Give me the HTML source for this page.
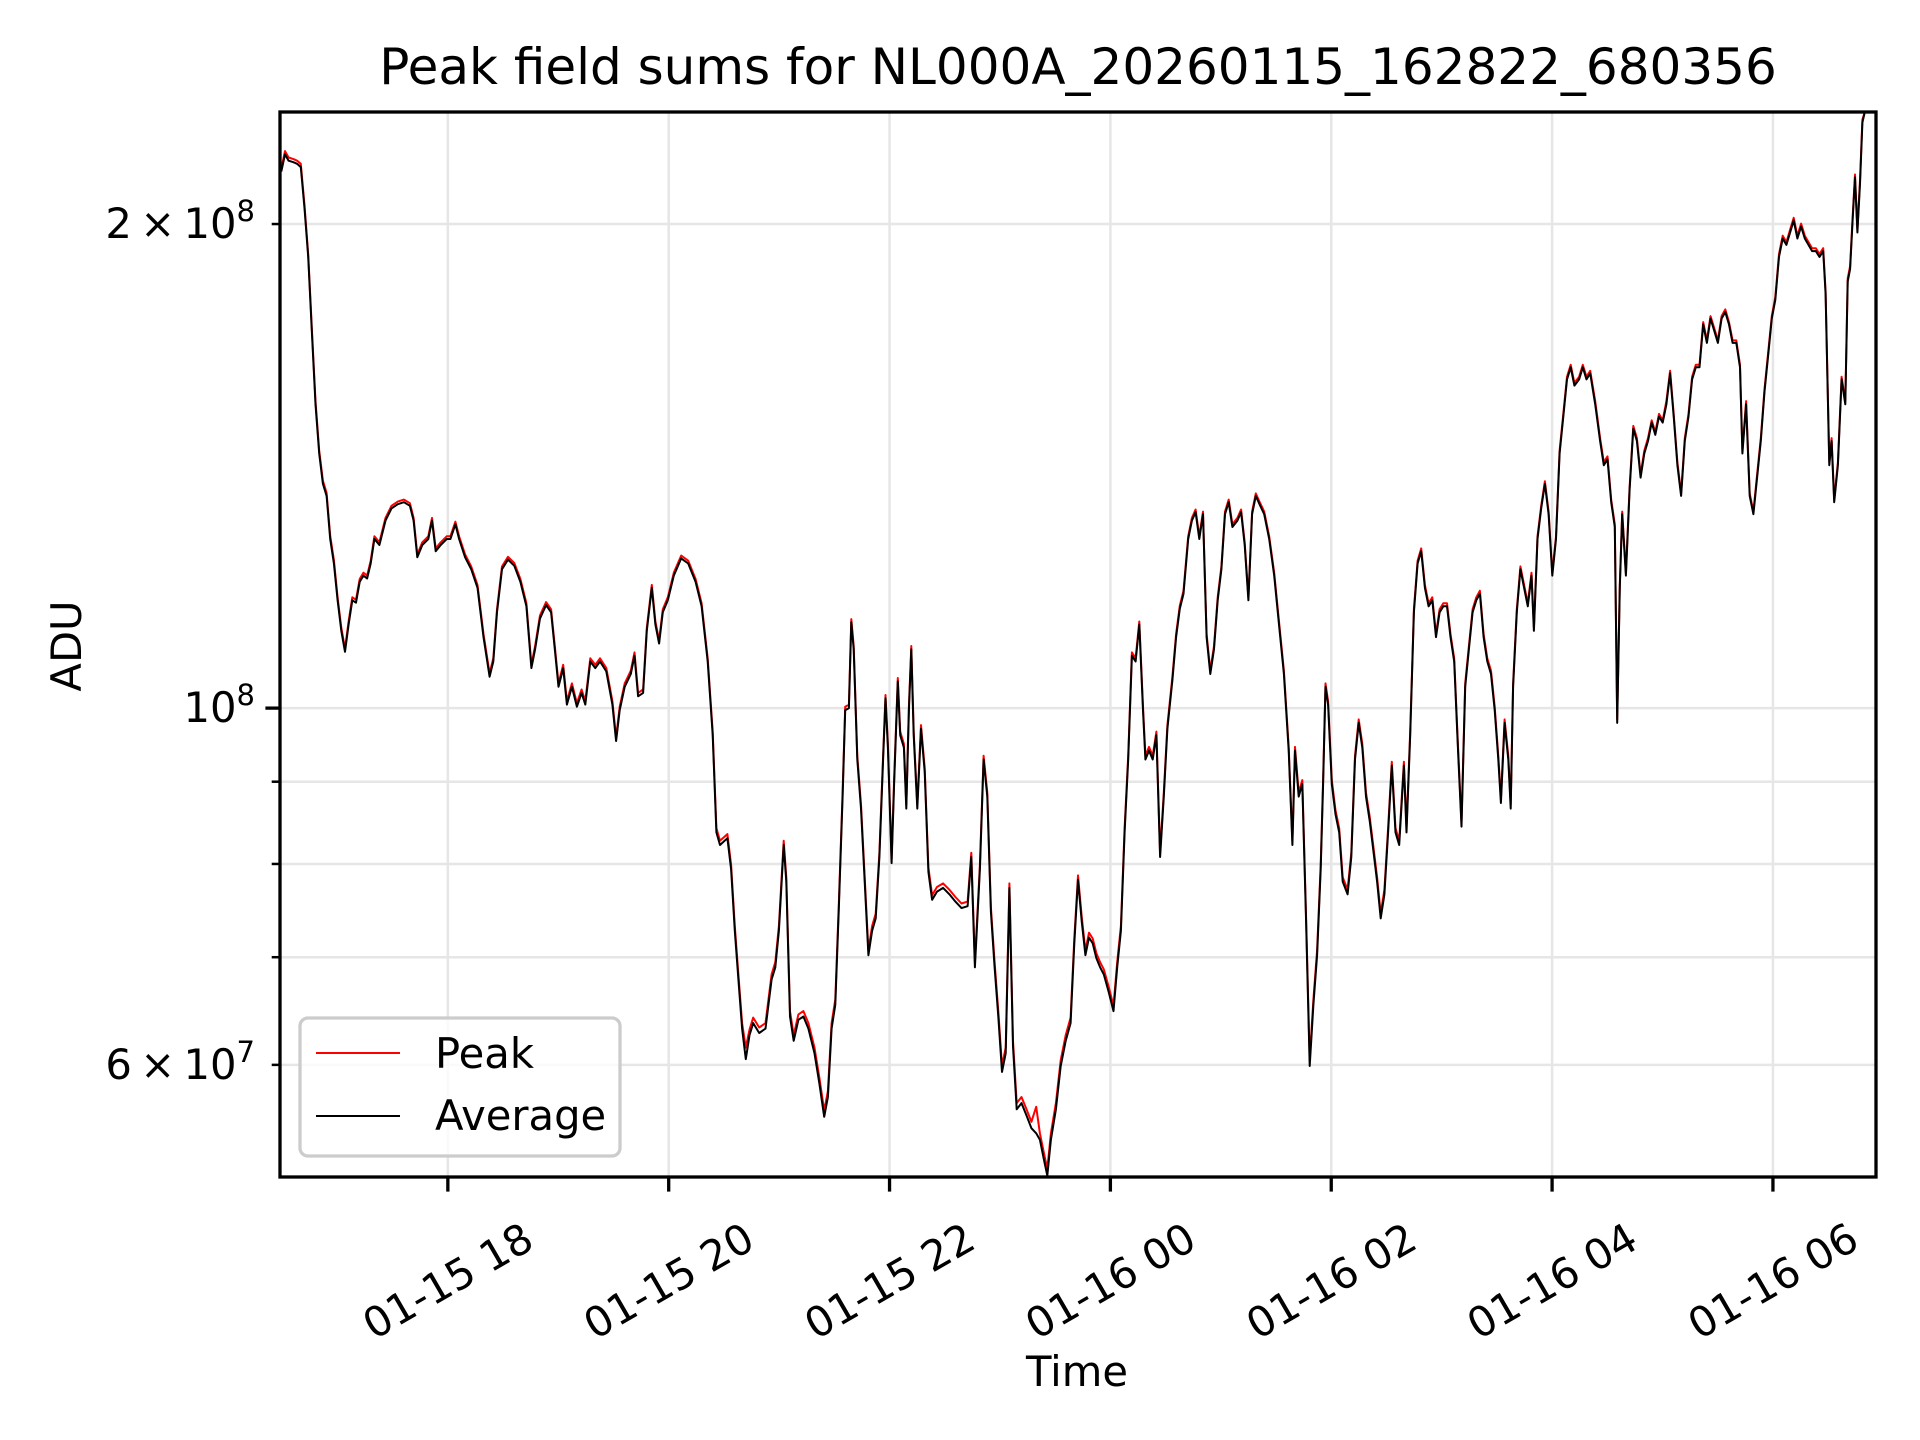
<!DOCTYPE html>
<html><head><meta charset="utf-8"><title>Peak field sums</title>
<style>html,body{margin:0;padding:0;background:#fff}svg{display:block}text{font-family:"DejaVu Sans","Liberation Sans",sans-serif;fill:#000}</style>
</head><body>
<svg id="chart" width="1920" height="1440" viewBox="0 0 1920 1440" xmlns="http://www.w3.org/2000/svg">
<rect width="1920" height="1440" fill="#fff"/>
<g id="grid"></g>
<g id="series"></g>
<rect x="280" y="112" width="1596" height="1065" fill="none" stroke="#000" stroke-width="3.3"/>
<g id="axes"></g>
<text x="1078" y="84" font-size="50" text-anchor="middle">Peak field sums for NL000A_20260115_162822_680356</text>
<text x="1077" y="1386" font-size="41.7" text-anchor="middle">Time</text>
<text x="0" y="0" font-size="41.7" text-anchor="middle" transform="translate(81,646) rotate(-90)">ADU</text>
<g>
<rect x="300" y="1018" width="320" height="138" rx="8" fill="#fff" fill-opacity="0.8" stroke="#cccccc" stroke-width="3.3"/>
<line x1="316" y1="1053" x2="400" y2="1053" stroke="#ff0000" stroke-width="2"/>
<text x="435" y="1068" font-size="41.7">Peak</text>
<line x1="316" y1="1116" x2="400" y2="1116" stroke="#000" stroke-width="2"/>
<text x="435" y="1130" font-size="41.7">Average</text>
</g>
</svg>
<script>
// minutes after 2026-01-15 16:00
const times = [29.5,31.5,33.5,36.1,38.1,40.1,42.1,44.1,46.1,48.1,50.1,52.1,54.1,56.1,58.1,60.1,62.1,64.1,66.1,68.1,70.1,72.1,74.1,76.1,78.1,80.1,82.8,86.1,89.4,92.8,96.1,99.4,101.4,103.4,106.1,109.4,111.4,113.4,116.1,119.4,121.4,124.1,126.1,129.4,132.7,136.1,139.4,142.7,144.7,146.7,149.4,152.7,156.1,159.4,162.7,165.4,167.4,170.1,173.4,176.1,178.1,180.1,182.7,184.7,187.4,190.1,192.7,194.7,197.4,200.1,202.7,206.1,209.4,211.4,213.4,216.1,219.4,221.4,223.4,226.1,228.1,230.8,232.8,234.8,236.8,239.5,242.8,246.8,250.6,254.6,257.9,261.2,263.9,265.9,267.9,271.9,273.9,275.9,277.9,279.9,281.9,283.9,285.9,289.2,292.6,295.9,297.9,299.9,302.5,303.9,305.9,307.9,310.5,313.2,315.9,319.2,321.9,324.5,326.5,328.5,330.5,332.5,334.5,335.9,337.9,339.2,340.5,342.5,344.5,346.5,348.5,350.5,352.5,354.5,356.5,357.8,359.1,361.1,362.5,364.5,365.8,367.8,369.1,370.5,371.8,373.1,375.1,377.1,379.1,381.1,383.1,385.8,389.1,392.5,395.8,399.1,402.4,404.4,406.4,409.1,411.1,413.1,415.1,417.1,419.1,421.1,423.1,425.1,427.1,429.1,431.7,434.4,437.1,439.7,441.7,443.7,445.7,447.7,450.4,453,455.7,458.4,460.4,462.4,464.4,466.4,468.4,470.4,472.4,474.4,476.4,479.1,481.7,483.7,485.7,487.7,489.7,491.7,493.7,495.7,497.7,499,501,503,505,507,509,511,513.7,515.7,517.7,519.7,522.3,524.3,526.3,528.3,530.3,532.3,534.3,536.3,538.3,540.3,542.3,544.3,546.3,549,551,553,555,557,559,561,563.6,566.3,569,571.6,574.3,576.9,578.9,580.3,582.3,584.3,586.3,588.3,590.3,592.3,594.3,595.6,596.9,598.3,600.3,602.3,604.3,606.2,608.9,610.9,612.9,614.9,616.9,618.9,620.9,622.9,624.9,626.9,628.9,630.9,632.9,634.9,636.9,639.5,640.9,642.9,644.9,646.9,648.9,650.9,652.9,654.9,656.9,658.9,660.9,662.9,664.8,666.8,668.8,670.8,672.8,674.8,676.8,678.8,680.8,682.8,684.8,686.8,688.8,690.8,692.2,694.2,696.2,697.5,698.8,700.8,702.8,704.8,706.8,708.8,710.1,712.1,714.1,716.1,718.1,720.1,722.1,724.1,726.1,728.1,730.1,732.1,734.7,736.7,738.7,740.7,743.4,746.1,748.1,750.1,752.1,754.1,755.4,756.8,758.1,760.1,762.1,764.1,766.1,768.1,770.1,772.1,774.1,776.1,778.1,780.1,782.1,784.1,786.1,788.1,790.1,792.1,794.1,796.1,798.1,800.1,802.1,804.1,806.1,808.1,810.1,812.1,814.1,816.1,818.1,820.1,822.1,823.4,825.4,827.4,829.4,831.4,833.4,835.4,837.4,839.4,841.3,843.3,845.3,847.3,849.3,851.3,853.3,855.3,857.3,859.3,861.3,863.3,865.3,867.3,868.6,870.6,871.9,873.3,875.3,877.3,879.3,880.6,881.9,883.3,884.6,885.9,887.3,888.6,889.9,891.9];
// ADU in millions
const averageValues = [215.6,221,219,218.5,218,217,204.6,190.8,171.7,154.5,144,137.9,135.5,127.4,123,116.7,111.7,108.4,112.7,116.7,116.3,119.8,120.9,120.4,123,127.4,126.3,130.8,133.1,133.9,134.3,133.6,130.8,124.1,126.3,127.4,130.8,125.2,126.3,127.4,127.4,130.1,127.4,124.1,122,118.8,110.7,104.6,106.9,114.7,122,123.7,122.6,119.8,115.7,105.9,108.8,113.7,115.9,114.7,108.8,103.1,105.9,100.5,103.1,100.2,102.2,100.5,106.9,105.9,106.9,105.4,100.5,95.4,99.7,103.1,105,107.8,101.7,102.2,111.7,118.8,112.7,109.7,114.7,116.7,120.9,123.9,123,119.8,115.7,106.9,96.2,83.7,82.2,83,79.4,72.7,67.8,63.2,60.5,62.6,63.7,62.8,63.2,67.8,69,72.7,82.2,78,64.3,62.1,64,64.3,63.2,61,58.4,55.7,57.3,63.2,65.4,75.3,88.1,99.7,100,113.1,108.8,92.9,86.6,78,70.2,72.7,74,80.8,92.9,101.4,94.5,80.1,89.7,103.9,96.2,94.5,86.6,99.7,108.8,96.2,86.6,97.1,91.3,79.1,76,76.9,77.3,76.6,75.8,75.1,75.3,80.8,69,79.4,92.9,88.1,74.7,69,64.3,59.4,61,77.3,61.6,56.3,56.8,55.8,54.8,54.4,53.9,52.5,51.2,53.9,56.3,59.9,62.1,63.7,71.4,78.2,73.7,70.2,72,71.4,69.9,69,68.3,66.6,64.8,69,72.7,83.7,92.9,107.8,106.9,112.7,99.7,92.9,94.1,92.9,96.2,80.8,88.1,97.1,104.1,110.7,115.3,117.8,127.4,130.8,132.4,127.4,132,110.7,105,108.8,116.7,122,132,134.3,129.6,130.8,132.4,126.3,116.7,132,135.5,133.9,132,127.4,120.9,112.7,105,94.1,82.2,94.1,88.1,89.7,74,59.9,65.4,70.2,79.4,89.7,103.1,100.5,89.7,85.9,83.7,78,76.6,80.8,92.9,97.9,94.5,88.1,85.1,81.5,78,74,76.6,83.7,92.1,83.7,82.2,92.1,83.7,96.2,114.7,123,125.2,118.8,115.7,116.7,110.7,114.7,115.7,115.7,110.7,106.9,94.5,84.4,103.1,108.8,114.7,116.7,117.8,110.7,106.9,105,99.7,92.9,87.3,97.9,92.9,86.6,103.1,114.7,122,118.8,115.7,120.9,111.7,127.4,133.1,137.9,132,120.9,127.4,144,151.8,160.1,162.9,158.7,160.1,162.9,160.1,161.5,154.5,146.6,141.6,142.8,134.3,129.6,97.9,118.8,132,120.9,136.7,149.2,146.6,139.1,144,146.6,150.5,147.9,151.8,150.5,154.5,161.5,151.8,141.6,135.5,146.6,151.8,160.1,162.9,162.9,173.2,168.7,174.7,171.7,168.7,174.7,176.3,173.2,168.7,168.7,162.9,144,154.5,135.5,132,139.1,146.6,157.3,165.8,174.7,179.4,190.8,195.9,194.1,197.6,201,195.9,199.3,195.9,194.1,192.4,192.4,190.8,192.4,180.9,141.6,146.6,134.3,141.6,160.1,154.5,184.2,187.5,201,213.8,197.6,211.9,231.3,235.3,237];
const peakValues = [216.5,222,220,219.5,219,218,205.5,191.6,172.4,155.2,144.6,138.5,136.1,128,123.6,117.2,112.2,108.9,113.2,117.2,116.8,120.3,121.4,120.9,123.5,127.9,126.8,131.3,133.6,134.4,134.8,134.1,131.3,124.6,126.8,127.9,131.3,125.7,126.8,127.9,127.9,130.6,127.9,124.6,122.5,119.3,111.2,105.1,107.4,115.2,122.5,124.2,123.1,120.3,116.2,106.4,109.3,114.2,116.4,115.2,109.3,103.6,106.4,101,103.6,100.7,102.7,101,107.4,106.4,107.4,105.9,101,95.9,100.2,103.6,105.5,108.3,102.2,102.7,112.2,119.3,113.2,110.2,115.2,117.2,121.4,124.4,123.5,120.3,116.2,107.4,96.7,84.2,82.7,83.5,79.9,73.2,68.3,63.7,61.5,63.1,64.2,63.3,63.7,68.3,69.5,73.2,82.7,78.5,64.8,62.6,64.5,64.8,63.7,61.5,58.9,56.2,57.8,63.7,65.9,75.8,88.6,100.2,100.5,113.6,109.3,93.4,87.1,78.5,70.7,73.2,74.5,81.3,93.4,101.9,95,80.6,90.2,104.4,96.7,95,87.1,100.2,109.3,96.7,87.1,97.6,91.8,79.6,76.5,77.4,77.8,77.1,76.3,75.6,75.8,81.3,69.5,79.9,93.4,88.6,75.2,69.5,64.8,59.9,61.5,77.8,62.1,56.8,57.3,56.3,55.3,56.5,54.4,53,51.7,54.4,56.8,60.4,62.6,64.2,71.9,78.7,74.2,70.7,72.5,71.9,70.4,69.5,68.8,67.1,65.3,69.5,73.2,84.2,93.4,108.3,107.4,113.2,100.2,93.4,94.6,93.4,96.7,81.3,88.6,97.6,104.6,111.2,115.8,118.3,127.9,131.3,132.9,127.9,132.5,111.2,105.5,109.3,117.2,122.5,132.5,134.8,130.1,131.3,132.9,126.8,117.2,132.5,136,134.4,132.5,127.9,121.4,113.2,105.5,94.6,82.7,94.6,88.6,90.2,74.5,60.4,65.9,70.7,79.9,90.2,103.6,101,90.2,86.4,84.2,78.5,77.1,81.3,93.4,98.4,95,88.6,85.6,82,78.5,74.5,77.1,84.2,92.6,84.2,82.7,92.6,84.2,96.7,115.2,123.5,125.7,119.3,116.2,117.2,111.2,115.2,116.2,116.2,111.2,107.4,95,84.9,103.6,109.3,115.2,117.2,118.3,111.2,107.4,105.5,100.2,93.4,87.8,98.4,93.4,87.1,103.6,115.2,122.5,119.3,116.2,121.4,112.2,127.9,133.6,138.4,132.5,121.4,127.9,144.6,152.4,160.7,163.5,159.3,160.7,163.5,160.7,162.1,155.2,147.2,142.2,143.4,134.8,130.1,98.4,119.3,132.5,121.4,137.2,149.8,147.2,139.7,144.6,147.2,151,148.5,152.4,151,155.2,162.1,152.4,142.2,136,147.2,152.4,160.7,163.5,163.5,173.8,169.3,175.3,172.3,169.3,175.3,177,173.8,169.3,169.3,163.5,144.6,155.2,136,132.5,139.7,147.2,157.9,166.5,175.3,180.1,191.6,196.7,194.9,198.4,201.8,196.7,200.1,196.7,194.9,193.2,193.2,191.6,193.2,181.6,142.2,147.2,134.8,142.2,160.7,155.2,185,188.3,201.8,214.7,198.4,212.8,232.3,236.3,238];
const xTickMinutes = [120,240,360,480,600,720,840];
const xTickLabels = ["01-15 18","01-15 20","01-15 22","01-16 00","01-16 02","01-16 04","01-16 06"];
const yGridValues = [60,70,80,90,100,200];
const yLabelValues = [200,100,60];

const NS="http://www.w3.org/2000/svg";
const L=280,R=1876,T=112,B=1177;
const xMin=28.8,xMax=896;
const yTop=Math.log10(234.8),yBot=Math.log10(51.1);
function xs(m){return L+(m-xMin)/(xMax-xMin)*(R-L);}
function ys(v){return T+(yTop-Math.log10(v))/(yTop-yBot)*(B-T);}
function mk(tag,attrs,parent){const e=document.createElementNS(NS,tag);for(const k in attrs)e.setAttribute(k,attrs[k]);parent.appendChild(e);return e;}
const grid=document.getElementById('grid'),axes=document.getElementById('axes'),series=document.getElementById('series');

xTickMinutes.forEach((m,i)=>{
  const x=xs(m);
  const g=mk('line',{x1:x,x2:x,y1:T,y2:B,stroke:'#e6e6e6','stroke-width':2.5},grid);
  
  
  const t=mk('line',{x1:x,x2:x,y1:B,y2:B+14.6,stroke:'#000','stroke-width':3.3},axes);
  
  
  const lb=mk('text',{x:0,y:0,'font-size':41.7,'text-anchor':'middle','dominant-baseline':'central',transform:`translate(${x},1281) rotate(-30)`},axes);
  lb.textContent=xTickLabels[i];
  
  
});
yGridValues.forEach(v=>{
  const y=ys(v);
  const g=mk('line',{x1:L,x2:R,y1:y,y2:y,stroke:'#e6e6e6','stroke-width':2.5},grid);
  
  
  const len=(v===100)?14.6:8.3;
  const t=mk('line',{x1:L-len,x2:L,y1:y,y2:y,stroke:'#000','stroke-width':(v===100)?3.3:2.5},axes);
  
  
});
yLabelValues.forEach(v=>{
  const y=ys(v);
  const lb=mk('text',{x:255,y:y+14,'font-size':41.7,'text-anchor':'end'},axes);
  if(v===100){lb.innerHTML='10<tspan dy="-17" font-size="29">8</tspan>';}
  else{const exp=Math.floor(Math.log10(v*1e6));const man=Math.round(v*1e6/Math.pow(10,exp));lb.innerHTML=man+'\u2009×\u200910<tspan dy="-17" font-size="29">'+exp+'</tspan>';}
  
  
});
function pathFor(vals){return vals.map((v,i)=>(i?'L':'M')+xs(times[i]).toFixed(1)+','+Math.max(T,ys(v)).toFixed(1)).join('');}
const pk=mk('path',{d:pathFor(peakValues),fill:'none',stroke:'#ff0000','stroke-width':2,'stroke-linejoin':'round'},series);


const av=mk('path',{d:pathFor(averageValues),fill:'none',stroke:'#000','stroke-width':2,'stroke-linejoin':'round'},series);


</script>
</body></html>
